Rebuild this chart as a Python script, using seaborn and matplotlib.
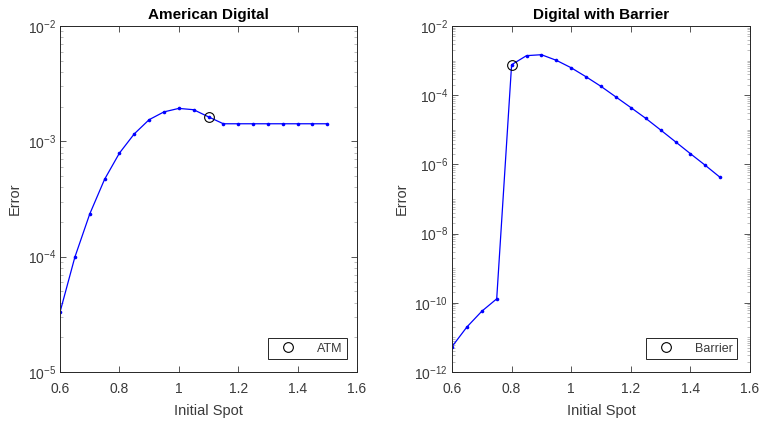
import numpy as np
import pandas as pd
import matplotlib
matplotlib.use("Agg")
import matplotlib.pyplot as plt
import seaborn as sns
from matplotlib.ticker import LogLocator, NullFormatter, FixedLocator

sns.set_theme(style="white")
plt.rcParams["font.family"] = ["Liberation Sans", "DejaVu Sans"]
plt.rcParams["mathtext.fontset"] = "custom"
plt.rcParams["mathtext.rm"] = "Liberation Sans"
plt.rcParams["mathtext.it"] = "Liberation Sans:italic"

# Initial spot grid shared by both experiments
spot = [0.60, 0.65, 0.70, 0.75, 0.80, 0.85, 0.90, 0.95, 1.00, 1.05,
        1.10, 1.15, 1.20, 1.25, 1.30, 1.35, 1.40, 1.45, 1.50]

# Pricing error, American digital option
err_american = [3.3e-5, 9.9e-5, 2.34e-4, 4.68e-4, 7.9e-4, 1.16e-3, 1.54e-3,
                1.80e-3, 1.93e-3, 1.88e-3, 1.63e-3, 1.42e-3, 1.42e-3, 1.42e-3,
                1.42e-3, 1.42e-3, 1.42e-3, 1.42e-3, 1.42e-3]

# Pricing error, digital option with barrier
err_barrier = [5.4e-12, 2.0e-11, 5.7e-11, 1.3e-10, 7.6e-4, 1.39e-3, 1.48e-3,
               1.02e-3, 6.2e-4, 3.4e-4, 1.8e-4, 8.9e-5, 4.4e-5, 2.15e-5,
               9.9e-6, 4.5e-6, 2.04e-6, 9.4e-7, 4.2e-7]

# Highlighted reference points
atm_spot = 1.10
barrier_spot = 0.80

titles = ["American Digital", "Digital with Barrier"]
legend_labels = ["ATM", "Barrier"]
x_ticks = [0.6, 0.8, 1.0, 1.2, 1.4, 1.6]
x_ticklabels = ["0.6", "0.8", "1", "1.2", "1.4", "1.6"]

ink = "#3a3a3a"

fig = plt.figure(figsize=(7.59, 4.21), dpi=100)
ax1 = fig.add_axes([60 / 759, 49 / 421, 297 / 759, 346 / 421])
ax2 = fig.add_axes([452 / 759, 49 / 421, 298 / 759, 346 / 421])

panels = [
    (ax1, err_american, atm_spot, (1e-5, 1e-2), [1e-5, 1e-4, 1e-3, 1e-2], 0.966),
    (ax2, err_barrier, barrier_spot, (1e-12, 1e-2),
     [1e-12, 1e-10, 1e-8, 1e-6, 1e-4, 1e-2], 0.958),
]

for i, (ax, err, mark_x, ylim, yticks, leg_x) in enumerate(panels):
    df = pd.DataFrame({"Initial Spot": spot, "Error": err})
    sns.lineplot(data=df, x="Initial Spot", y="Error", ax=ax, color="#0000ff",
                 linewidth=0.9, marker="o", markersize=2.6,
                 markeredgewidth=0, markerfacecolor="#0000ff")
    mark_y = err[spot.index(mark_x)]
    ax.plot([mark_x], [mark_y], linestyle="none", marker="o", markersize=7,
            markerfacecolor="none", markeredgecolor="black",
            markeredgewidth=0.8, label=legend_labels[i])
    ax.set_yscale("log")
    ax.set_xlim(0.6, 1.6)
    ax.set_ylim(*ylim)
    ax.xaxis.set_major_locator(FixedLocator(x_ticks))
    ax.set_xticklabels(x_ticklabels)
    ax.yaxis.set_major_locator(FixedLocator(yticks))
    ax.set_yticklabels([r"$10^{%d}$" % int(np.log10(v)) for v in yticks])
    ax.yaxis.set_minor_locator(LogLocator(base=10, subs=np.arange(1, 10),
                                          numticks=200))
    ax.yaxis.set_minor_formatter(NullFormatter())
    ax.tick_params(which="both", direction="in", top=True, right=True,
                   bottom=True, left=True, colors=ink, labelsize=10)
    ax.tick_params(axis="x", which="major", pad=7)
    ax.tick_params(axis="y", which="major", pad=3)
    ax.tick_params(which="major", length=4, width=0.6)
    ax.tick_params(which="minor", length=2, width=0.4, colors="#8a8a8a")
    for s in ax.spines.values():
        s.set_color("#262626")
        s.set_linewidth(0.7)
    ax.set_title(titles[i], fontsize=11, fontweight="bold", color="black", pad=5)
    ax.set_xlabel("Initial Spot", fontsize=10.5, color=ink, labelpad=6)
    ax.set_ylabel("Error", fontsize=10.5, color=ink, labelpad=4)
    leg = ax.legend(loc="lower right", fontsize=9, frameon=True, fancybox=False,
                    edgecolor="#262626", framealpha=1, handlelength=2.6,
                    borderpad=0.35, handletextpad=1.0, borderaxespad=0,
                    bbox_to_anchor=(leg_x, 0.0376))
    leg.get_frame().set_linewidth(0.7)
    for t in leg.get_texts():
        t.set_color(ink)

fig.savefig("out.png", dpi=100, facecolor="white")
